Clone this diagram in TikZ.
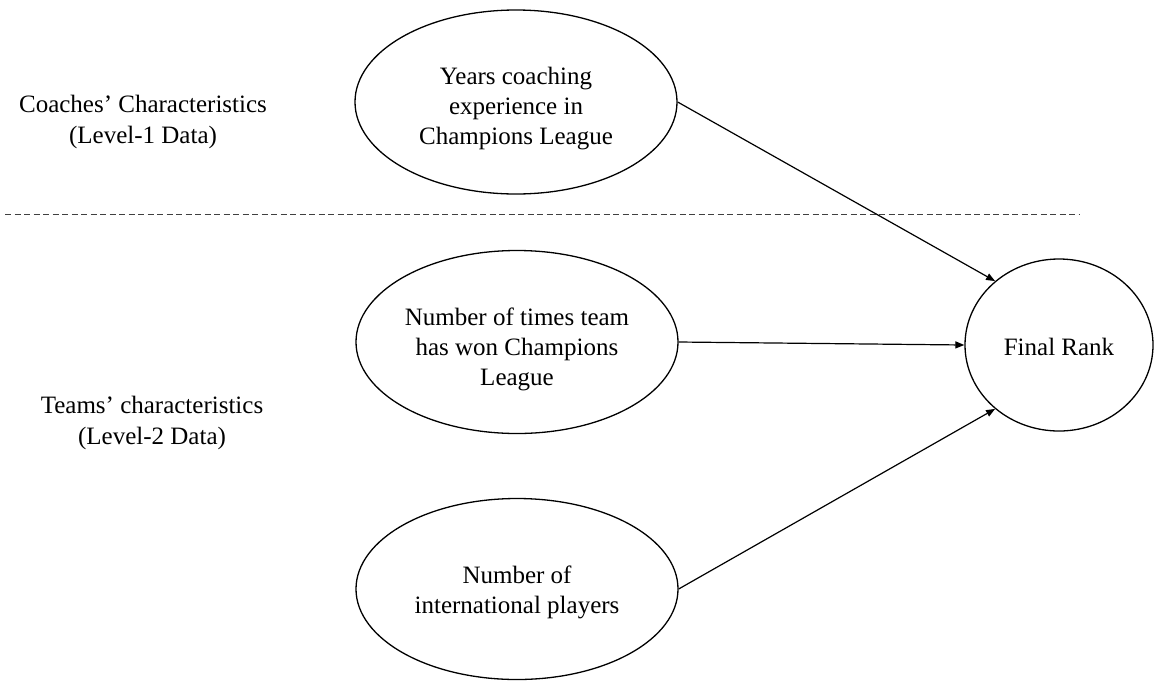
\documentclass[tikz,border=0pt]{standalone}
\usepackage{fontspec}
\setmainfont{Liberation Serif}
\usetikzlibrary{shapes.geometric,arrows.meta}
\begin{document}
\begin{tikzpicture}[x=1pt,y=-1pt,
  varnode/.style={ellipse,draw,line width=1.3pt,inner sep=0pt},
  vartext/.style={align=center,inner sep=0pt,font=\fontsize{25}{30}\selectfont},
  grouplabel/.style={align=center,font=\fontsize{25}{31}\selectfont,inner sep=0pt},
  conn/.style={line width=1.2pt,-{Triangle[length=9pt,width=7pt]}},
  sep/.style={draw=black!75,line width=0.8pt,dash pattern=on 6pt off 3.5pt}]
\useasboundingbox (0,0) rectangle (1156,681);

\node[grouplabel] (coachlab) at (143,122) {Coaches’ Characteristics\\(Level-1 Data)};
\node[grouplabel] (teamlab) at (152,423) {Teams’ characteristics\\(Level-2 Data)};

\coordinate (sepL) at (5,214);
\coordinate (sepR) at (1080,214);
\draw[sep] (sepL) -- (sepR);

\node[varnode,minimum width=322pt,minimum height=184pt] (years) at (516,102) {};
\node[vartext] (yearstext) at (516,109) {Years coaching\\experience in\\Champions League};
\node[varnode,minimum width=322pt,minimum height=183pt] (won) at (517,342) {};
\node[vartext] (wontext) at (517,349) {Number of times team\\has won Champions\\League};
\node[varnode,minimum width=322pt,minimum height=181pt] (intl) at (517,589) {};
\node[vartext] (intltext) at (517,592) {Number of\\international players};
\node[varnode,minimum width=188pt,minimum height=172pt] (rank) at (1059,345) {};
\node[vartext] (ranktext) at (1059,347) {Final Rank};

\draw[conn] (years.east) -- (rank.135);
\draw[conn] (won.east) -- (rank.180);
\draw[conn] (intl.east) -- (rank.225);
\end{tikzpicture}
\end{document}
